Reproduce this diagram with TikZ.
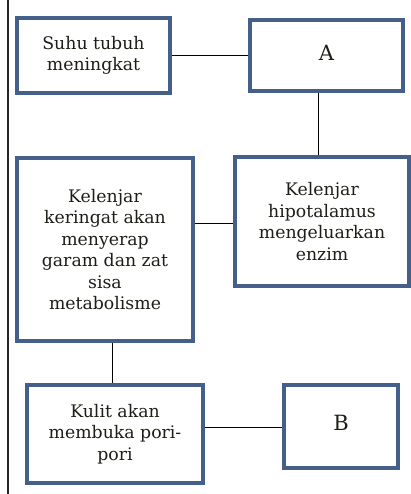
\documentclass[tikz,border=0pt]{standalone}
\usepackage{fontspec}
\setmainfont{DejaVu Serif}
\definecolor{boxblue}{RGB}{68,96,138}
\definecolor{txt}{RGB}{30,30,22}
\begin{document}
\begin{tikzpicture}[x=1pt,y=-1pt,
  flowbox/.style={draw=boxblue, line width=4pt, fill=white, rectangle,
    inner sep=0pt, align=center, text=txt,
    font=\fontsize{17.3}{21.5}\selectfont},
  bigtext/.style={font=\fontsize{21}{24}\selectfont},
  link/.style={draw=black, line width=1pt}]
\useasboundingbox (0,0) rectangle (411,494);
\fill[white] (0,0) rectangle (411,494);
\coordinate (lt) at (8,0);
\coordinate (lb) at (8,494);
\draw[line width=1.3pt, black!85] (lt) -- (lb);

\node[flowbox, minimum width=153pt, minimum height=75pt] (suhu) at (93.5,55.5) {Suhu tubuh\\meningkat};
\node[flowbox, bigtext, minimum width=153pt, minimum height=71pt] (A) at (326.5,55.5) {\raisebox{5pt}{A}};
\node[flowbox, minimum width=176pt, minimum height=183pt] (keringat) at (105,249.5) {Kelenjar\\keringat akan\\menyerap\\garam dan zat\\sisa\\metabolisme};
\node[flowbox, minimum width=174pt, minimum height=129pt] (hipo) at (322,221.5) {Kelenjar\\hipotalamus\\mengeluarkan\\enzim};
\node[flowbox, minimum width=176pt, minimum height=98pt] (kulit) at (115,434) {Kulit akan\\membuka pori-\\pori};
\node[flowbox, bigtext, minimum width=114pt, minimum height=83pt] (B) at (341,426.5) {\raisebox{7pt}{B}};

\draw[link] (suhu.east) -- (A.west |- suhu.east);
\draw[link] (A.south -| 318,0) -- (hipo.north -| 318,0);
\draw[link] (keringat.east |- 0,223) -- (hipo.west |- 0,223);
\draw[link] (keringat.south -| 112,0) -- (kulit.north -| 112,0);
\draw[link] (kulit.east |- 0,427) -- (B.west |- 0,427);
\end{tikzpicture}
\end{document}
